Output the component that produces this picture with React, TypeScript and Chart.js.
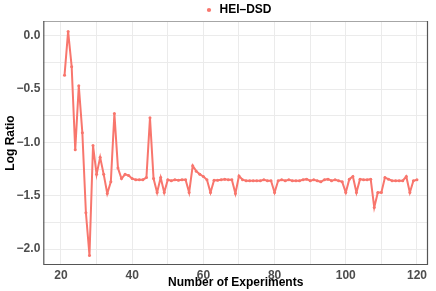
import React, { useEffect, useRef } from "react";
import { Chart, registerables } from "chart.js";

Chart.register(...registerables);

const experiments: number[] = [];
for (let n = 21; n <= 120; n++) experiments.push(n);

const logRatio: number[] = [
  // 21-30
  -0.37, 0.04, -0.29, -1.07, -0.47, -0.91, -1.66, -2.06, -1.03, -1.3,
  // 31-40
  -1.14, -1.3, -1.48, -1.37, -0.73, -1.24, -1.34, -1.3, -1.31, -1.34,
  // 41-50
  -1.35, -1.35, -1.35, -1.33, -0.77, -1.34, -1.47, -1.33, -1.47, -1.35,
  // 51-60
  -1.36, -1.35, -1.355, -1.35, -1.35, -1.47, -1.22, -1.27, -1.3, -1.32,
  // 61-70
  -1.35, -1.47, -1.355, -1.355, -1.35, -1.345, -1.35, -1.35, -1.48, -1.315,
  // 71-80
  -1.35, -1.36, -1.36, -1.36, -1.36, -1.36, -1.35, -1.36, -1.36, -1.47,
  // 81-90
  -1.36, -1.35, -1.36, -1.35, -1.36, -1.36, -1.36, -1.35, -1.345, -1.36,
  // 91-100
  -1.35, -1.36, -1.37, -1.35, -1.345, -1.36, -1.35, -1.36, -1.37, -1.47,
  // 101-110
  -1.345, -1.32, -1.47, -1.345, -1.35, -1.35, -1.345, -1.61, -1.47, -1.47,
  // 111-120
  -1.33, -1.345, -1.36, -1.36, -1.36, -1.36, -1.32, -1.47, -1.36, -1.35,
];

const seriesName = "HEI\u2013DSD";
const xTickValues = [20, 30, 40, 50, 60, 70, 80, 90, 100, 110, 120];
const xLabelValues = [20, 40, 60, 80, 100, 120];
const yTickValues = [-2.0, -1.75, -1.5, -1.25, -1.0, -0.75, -0.5, -0.25, 0.0];
const yLabelValues = [-2.0, -1.5, -1.0, -0.5, 0.0];

const LINE_COLOR = "#F8766D";
const FONT = "'Liberation Sans', Arial, Helvetica, sans-serif";

export default function App() {
  const ref = useRef<HTMLCanvasElement | null>(null);

  useEffect(() => {
    if (!ref.current) return;
    const borderPlugin = {
      id: "panelBorder",
      afterLayout(chart: any) {
        const lg = chart.legend;
        if (lg) {
          lg.left += 24;
          lg.right += 24;
        }
      },
      afterDatasetsDraw(chart: any) {
        const { ctx, chartArea: a } = chart;
        ctx.save();
        ctx.lineWidth = 1.2;
        ctx.strokeStyle = "#a6a6a6";
        ctx.beginPath();
        ctx.moveTo(a.left, a.top + 0.5);
        ctx.lineTo(a.right, a.top + 0.5);
        ctx.stroke();
        ctx.strokeStyle = "#555555";
        ctx.beginPath();
        ctx.moveTo(a.left + 0.5, a.top);
        ctx.lineTo(a.left + 0.5, a.bottom - 0.5);
        ctx.lineTo(a.right - 0.5, a.bottom - 0.5);
        ctx.lineTo(a.right - 0.5, a.top);
        ctx.stroke();
        ctx.restore();
      },
    };

    const chart = new Chart(ref.current, {
      type: "line",
      data: {
        labels: experiments,
        datasets: [
          {
            label: seriesName,
            data: experiments.map((x, i) => ({ x, y: logRatio[i] })),
            borderColor: LINE_COLOR,
            backgroundColor: LINE_COLOR,
            borderWidth: 2,
            pointRadius: 1.5,
            pointStyle: "circle",
            pointBorderWidth: 0,
            pointBackgroundColor: LINE_COLOR,
            tension: 0,
          },
        ],
      },
      options: {
        responsive: false,
        animation: false,
        events: [],
        layout: { padding: { top: 0, left: 0, right: 8, bottom: 0 } },
        plugins: {
          tooltip: { enabled: false },
          legend: {
            display: true,
            position: "top",
            maxHeight: 21,
            labels: {
              usePointStyle: true,
              boxWidth: 9,
              boxHeight: 3,
              padding: 4,
              color: "#000000",
              font: { family: FONT, size: 12, weight: "bold" },
            },
          },
        },
        scales: {
          x: {
            type: "linear",
            min: 15.03,
            max: 123.1,
            afterFit(scale: any) {
              scale.height = 26;
            },
            afterBuildTicks(scale: any) {
              scale.ticks = xTickValues.map((v) => ({ value: v }));
            },
            grid: { color: "#ebebeb", lineWidth: 1, drawTicks: false },
            border: { display: false },
            ticks: {
              padding: 3,
              color: "#4d4d4d",
              font: { family: FONT, size: 12, weight: "bold" },
              maxRotation: 0,
              autoSkip: false,
              callback: (v: any) => (xLabelValues.includes(Number(v)) ? String(v) : ""),
            },
            title: {
              display: true,
              text: "Number of Experiments",
              color: "#000000",
              font: { family: FONT, size: 12, weight: "bold" },
              padding: { top: 0, bottom: 1 },
            },
          },
          y: {
            type: "linear",
            min: -2.15,
            max: 0.138,
            afterFit(scale: any) {
              scale.width = 43.3;
            },
            afterBuildTicks(scale: any) {
              scale.ticks = yTickValues.map((v) => ({ value: v }));
            },
            grid: { color: "#ebebeb", lineWidth: 1, drawTicks: false },
            border: { display: false },
            ticks: {
              padding: 3,
              color: "#4d4d4d",
              font: { family: FONT, size: 12, weight: "bold" },
              autoSkip: false,
              callback: (v: any) => {
                const n = Number(v);
                if (!yLabelValues.some((l) => Math.abs(l - n) < 1e-9)) return "";
                const s = Math.abs(n).toFixed(1);
                return n < -1e-9 ? "\u2212" + s : s;
              },
            },
            title: {
              display: true,
              text: "Log Ratio",
              color: "#000000",
              font: { family: FONT, size: 12, weight: "bold" },
              padding: { top: 3, bottom: 0 },
            },
          },
        },
      },
      plugins: [borderPlugin],
    } as any);

    return () => chart.destroy();
  }, []);

  return (
    <div style={{ position: "absolute", left: 0, top: 0, width: 436, height: 291, background: "#ffffff" }}>
      <canvas ref={ref} width={436} height={291} style={{ display: "block" }} />
    </div>
  );
}
